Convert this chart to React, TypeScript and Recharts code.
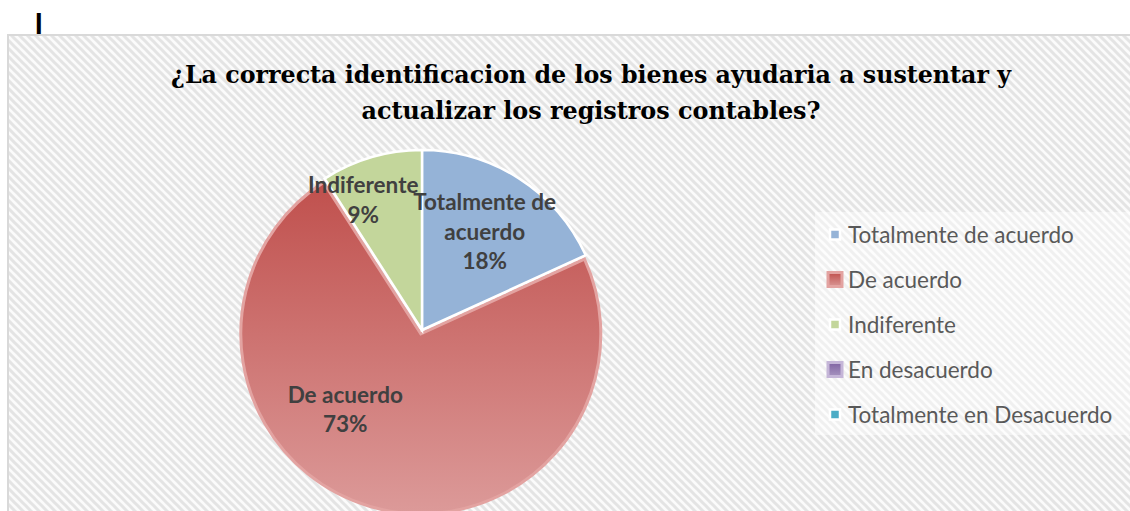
import React from 'react';
import { PieChart, Pie, Cell, Legend } from 'recharts';

// survey answers (count of respondents)
const categories = [
  'Totalmente de acuerdo',
  'De acuerdo',
  'Indiferente',
  'En desacuerdo',
  'Totalmente en Desacuerdo',
];
const responses = [2, 8, 1, 0, 0];
const titleLines = [
  '¿La correcta identificacion de los bienes ayudaria a sustentar y',
  'actualizar los registros contables?',
];

const sliceColors = ['#95b3d7', 'url(#redFill)', '#c3d69b', 'url(#purpleFill)', '#4bacc6'];
const swatchColors = ['#95b3d7', 'url(#redFillL)', '#c3d69b', 'url(#purpleFillL)', '#4bacc6'];
const swatchBorders = ['#ffffff', '#e3a3a1', '#ffffff', '#c5b6d8', '#ffffff'];
const swatchBig = [false, true, false, true, false];

// where Excel put each data label (angle clockwise from top, fraction of radius)
const labelSpots = [
  { angle: 32.7, r: 0.645 },
  { angle: 223.9, r: 0.615 },
  { angle: 335.6, r: 0.79 },
];

const CX = 422;
const CY = 330;
const R = 180;
const W = 1130;
const H = 511;

const data = categories.map((name, i) => ({ name, value: responses[i] }));
const total = responses.reduce((a, b) => a + b, 0);

const labelFont = 'Lato, "Open Sans", sans-serif';

const renderLabel = (props: any) => {
  const { index, value, name } = props;
  if (!value || !labelSpots[index]) return null;
  const spot = labelSpots[index];
  const rad = (spot.angle * Math.PI) / 180;
  const x = CX + spot.r * R * Math.sin(rad);
  const y = CY - spot.r * R * Math.cos(rad);
  const pct = Math.round((value / total) * 100) + '%';
  // long name wraps like in the original
  const lines = name === 'Totalmente de acuerdo' ? ['Totalmente de', 'acuerdo', pct] : [name, pct];
  const lh = 29.5;
  const first = y - ((lines.length - 1) * lh) / 2 + 7.5;
  return (
    <text
      x={x}
      y={first}
      textAnchor="middle"
      fill="#404040"
      fontFamily={labelFont}
      fontWeight={700}
      fontSize={22.5}
    >
      {lines.map((l, i) => (
        <tspan key={i} x={x} y={first + i * lh}>
          {l}
        </tspan>
      ))}
    </text>
  );
};

const LegendBox = () => (
  <svg width={315} height={223} style={{ display: 'block' }}>
    <defs>
      <linearGradient id="redFillL" x1="0" y1="0" x2="0" y2="1">
        <stop offset="0%" stopColor="#c0504d" />
        <stop offset="100%" stopColor="#d99694" />
      </linearGradient>
      <linearGradient id="purpleFillL" x1="0" y1="0" x2="0" y2="1">
        <stop offset="0%" stopColor="#8064a2" />
        <stop offset="100%" stopColor="#a794c0" />
      </linearGradient>
    </defs>
    <rect x={0} y={0} width={315} height={223} fill="#ffffff" opacity={0.45} />
    {categories.map((c, i) => {
      const cy = 22.5 + i * 45;
      const s = swatchBig[i] ? 14 : 10;
      return (
        <g key={c}>
          <rect
            x={20 - s / 2}
            y={cy - s / 2}
            width={s}
            height={s}
            fill={swatchColors[i]}
            stroke={swatchBorders[i]}
            strokeWidth={swatchBig[i] ? 3 : 2.5}
          />
          <text x={33} y={cy + 8} fill="#595959" fontFamily={labelFont} fontSize={22.5}>
            {c}
          </text>
        </g>
      );
    })}
  </svg>
);

export default function App() {
  return (
    <div style={{ position: 'absolute', left: 0, top: 0, width: W, height: H, overflow: 'hidden', background: '#fff' }}>
      <svg width={W} height={H} style={{ position: 'absolute', left: 0, top: 0 }}>
        <defs>
          <pattern id="hatch" width={8} height={8} patternUnits="userSpaceOnUse">
            <rect width={8} height={8} fill="#fbfbfb" />
            <path d="M-2,-2 L10,10 M-2,6 L2,10 M6,-2 L10,2" stroke="#e4e4e4" strokeWidth={3} />
          </pattern>
        </defs>
        <text x={34.5} y={34} fontFamily={labelFont} fontWeight={700} fontSize={29} fill="#000">
          I
        </text>
        <rect x={8} y={35} width={W} height={H} fill="url(#hatch)" stroke="#d9d9d9" strokeWidth={2} />
        {titleLines.map((t, i) => (
          <text
            key={i}
            x={591}
            y={83 + i * 36}
            textAnchor="middle"
            fontFamily='"DejaVu Serif Condensed", "DejaVu Serif", serif'
            fontWeight={700}
            fontSize={25}
            fill="#000"
            textLength={i === 0 ? 840 : 459}
            lengthAdjust="spacingAndGlyphs"
          >
            {t}
          </text>
        ))}
      </svg>
      <div style={{ position: 'absolute', left: 0, top: 0 }}>
        <PieChart width={W} height={H} margin={{ top: 0, right: 0, bottom: 0, left: 0 }}>
          <defs>
            <linearGradient id="redFill" x1="0" y1="0" x2="0" y2="1">
              <stop offset="0%" stopColor="#c0504d" />
              <stop offset="100%" stopColor="#dc9a99" />
            </linearGradient>
            <linearGradient id="purpleFill" x1="0" y1="0" x2="0" y2="1">
              <stop offset="0%" stopColor="#8064a2" />
              <stop offset="100%" stopColor="#a794c0" />
            </linearGradient>
          </defs>
          {/* exploded "De acuerdo" slice, drawn underneath */}
          <Pie
            data={data}
            dataKey="value"
            nameKey="name"
            cx={CX - 1.2}
            cy={CY + 3.8}
            outerRadius={R}
            startAngle={90}
            endAngle={-270}
            isAnimationActive={false}
            labelLine={false}
            legendType="none"
          >
            {data.map((d, i) => (
              <Cell
                key={d.name}
                fill={i === 1 ? sliceColors[1] : 'none'}
                stroke={i === 1 ? '#e3a3a1' : 'none'}
                strokeWidth={i === 1 ? 3 : 0}
              />
            ))}
          </Pie>
          <Pie
            data={data}
            dataKey="value"
            nameKey="name"
            cx={CX}
            cy={CY}
            outerRadius={R}
            startAngle={90}
            endAngle={-270}
            isAnimationActive={false}
            labelLine={false}
            label={renderLabel}
          >
            {data.map((d, i) => (
              <Cell
                key={d.name}
                fill={i === 1 || d.value === 0 ? 'none' : sliceColors[i]}
                stroke={i === 1 || d.value === 0 ? 'none' : '#ffffff'}
                strokeWidth={2.5}
              />
            ))}
          </Pie>
          <Legend
            layout="vertical"
            align="right"
            verticalAlign="middle"
            content={() => <LegendBox />}
            wrapperStyle={{ position: 'absolute', left: 815, top: 212, width: 315, height: 223 }}
          />
        </PieChart>
      </div>
    </div>
  );
}
